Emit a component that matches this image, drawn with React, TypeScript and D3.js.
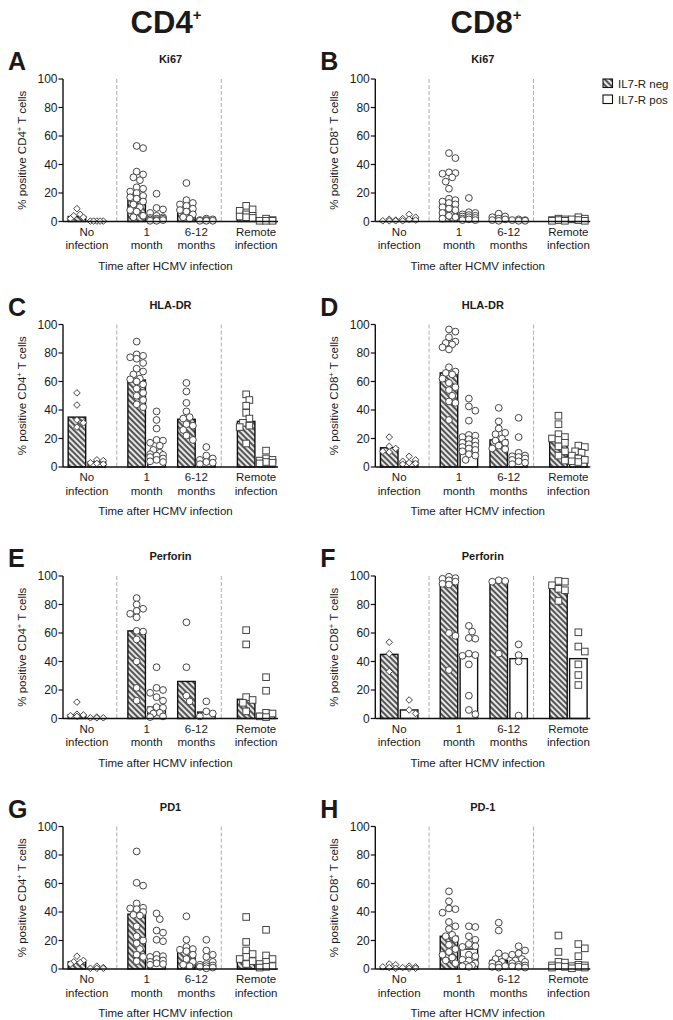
import React from 'react';
import * as d3 from 'd3';

const groupLines = [['No', 'infection'], ['1', 'month'], ['6-12', 'months'], ['Remote', 'infection']];
const yTicks = [0, 20, 40, 60, 80, 100];
const legendLabels = ['IL7-R neg', 'IL7-R pos'];
const xTitle = 'Time after HCMV infection';

// Ki67
const ki67Cd4Neg = [[9, 5, 4, 3, 2], [53, 51.5, 35, 33, 31, 29, 24, 23, 21, 20, 18, 17, 16, 14, 12, 10, 8, 7, 4, 3], [27, 15, 13, 12, 11, 9, 8, 7, 5, 3, 2], [11, 8.5, 7.5, 5, 4, 3.5, 3, 2.5]];
const ki67Cd4Pos = [[0.3, 0.3, 0.3, 0.3, 0.3], [19.5, 9.5, 8.5, 6, 4, 3, 2.5, 2, 2, 1.5, 1, 1, 0.5, 0.5], [2, 1.5, 1, 1, 0.5, 0.5, 0.5], [2, 1, 0.5, 0.5, 0.5]];
const ki67Cd4NegBar = [3.5, 18.5, 8.5, 4];
const ki67Cd4PosBar = [0.3, 2, 0.5, 0.5];

const ki67Cd8Neg = [[1.5, 1, 0.5, 0.5, 0.5], [48, 44.5, 34.5, 34, 33.5, 31, 28, 23, 16, 15, 14, 13, 12, 10, 9, 8, 6, 4, 3, 2], [5.5, 3.5, 3, 2, 1.5, 1, 0.5], [2, 1.5, 1, 1, 0.5, 0.5]];
const ki67Cd8Pos = [[5, 3, 2, 1.5, 1, 0.5], [16.5, 6.5, 6, 5, 4.5, 4, 3.5, 3, 2.5, 2, 1.5, 1, 1], [1.5, 1, 1, 0.5, 0.5], [3, 2, 1.5, 1, 0.5]];
const ki67Cd8NegBar = [0.5, 15, 1.5, 1];
const ki67Cd8PosBar = [2, 4, 0.5, 1];

// HLA-DR
const hlaCd4Neg = [[52, 43.5, 33, 31, 28], [88, 79, 78, 77, 76, 73, 69, 67, 65, 62, 61.5, 60, 58, 55, 52, 50, 47, 44, 42], [59, 53, 45, 39, 35, 34, 30, 29, 26, 22, 19], [51, 47, 43, 38, 34, 31, 29, 28, 16.5]];
const hlaCd4Pos = [[5, 4.5, 3, 2.5, 2], [39, 33, 27, 19, 18.5, 17, 15, 12, 10, 9, 8.5, 8, 7, 6, 5, 4, 3.5], [14, 8, 6, 5, 3.5, 3, 2], [11.5, 6, 5, 4.5, 3.5, 3, 2.5]];
const hlaCd4NegBar = [35, 61, 33.5, 32];
const hlaCd4PosBar = [3.5, 9, 4, 4];

const hlaCd8Neg = [[21, 14.5, 13, 11, 10.5], [96.5, 95, 91, 88, 87, 86, 84, 82.5, 70, 67, 66, 65, 62, 59, 56, 54, 50, 46, 45, 33], [41.5, 32, 27, 24, 23, 20, 18.5, 17, 15, 13, 12.5], [36, 30, 23, 21, 20, 19, 17, 14.5, 11, 8, 4.5]];
const hlaCd8Pos = [[7.5, 5, 4, 3, 2.5, 2], [48, 42.5, 39.5, 32.5, 22.5, 22, 21, 19.5, 18, 17, 16, 15, 14, 13, 12, 11, 9, 8, 5], [34.5, 21, 10, 8, 7.5, 7, 6, 5, 4, 3, 2], [15, 14, 11, 10, 8, 6, 5, 4, 3.5]];
const hlaCd8NegBar = [13.5, 66, 19, 18];
const hlaCd8PosBar = [3.5, 18, 6.5, 6];

// Perforin
const perfCd4Neg = [[11.5, 3, 2.5, 2, 1.5], [84.5, 80, 77, 75.5, 73.5, 71, 61.5, 61, 55.5, 40, 21.5, 12.5], [67.5, 36, 16, 12], [62, 52, 15, 13, 11, 5]];
const perfCd4Pos = [[1, 0.5, 0.5, 0.5], [36, 21.5, 20, 18, 15, 12.5, 8, 7.5, 6, 4, 3.5, 1.5, 1], [12, 5, 3.5, 1.5], [29, 19.5, 4, 3.5, 1.5, 1]];
const perfCd4NegBar = [2.5, 61.5, 26, 13.5];
const perfCd4PosBar = [0.5, 8, 4.5, 3.5];

const perfCd8Neg = [[53.5, 45.5, 33], [99.5, 98.5, 98, 97, 96, 94.5, 94, 60, 58, 34], [97, 96.5, 96, 45.5], [96, 96.5, 93.5, 91, 90, 82.5]];
const perfCd8Pos = [[13, 6, 3.5], [65, 61, 56.5, 56, 45.5, 44.5, 44, 38, 16, 6, 3], [52, 44.5, 40, 2], [60.5, 50.5, 47, 38, 30.5, 23.5]];
const perfCd8NegBar = [45, 94, 96, 91.5];
const perfCd8PosBar = [6, 44, 42, 42];

// PD1
const pd1Cd4Neg = [[9, 6, 5, 4.5, 3.5], [82.5, 60.5, 58.5, 46, 43, 42.5, 42, 40, 38, 37.5, 30, 23, 20, 18, 14, 10, 8.5, 5.5], [37, 20.5, 15.5, 14, 13.5, 12.5, 10, 7, 5, 3, 2], [36.5, 19, 13, 10.5, 8.5, 7, 5.5, 3.5]];
const pd1Cd4Pos = [[2, 1, 0.5, 0.5, 0.5], [39, 35, 27, 25.5, 20.5, 19.5, 10, 9, 8.5, 7, 6, 5, 4, 3.5, 3], [20.5, 13, 10, 8.5, 5, 3.5, 3, 2.5, 2, 1.5, 1, 0.5], [27.5, 9.5, 7, 5, 3.5, 2, 1.5, 1]];
const pd1Cd4NegBar = [5, 38.5, 13, 7];
const pd1Cd4PosBar = [0.5, 8, 2.5, 2.5];

const pd1Cd8Neg = [[3.5, 3, 1.5, 1, 0.5], [54.5, 47.5, 42.5, 42, 39.5, 33, 30, 28, 24, 23, 21, 17, 14, 12, 10, 8, 6, 4], [32.5, 27, 11, 9, 7, 5, 4, 3, 2, 1.5, 1], [23.5, 12, 5, 4.5, 2.5, 2, 1.5, 1]];
const pd1Cd8Pos = [[2, 1.5, 1, 0.5, 0.5], [30, 29.5, 23, 20.5, 17.5, 16, 15.5, 10, 9, 6.5, 6, 4, 3, 2.5, 2, 1.5], [16, 13, 11, 10, 7, 6, 5, 4, 3, 2.5, 2, 1.5, 1], [17.5, 14.5, 9, 3, 2.5, 2, 1.5, 1, 0.5]];
const pd1Cd8NegBar = [1, 23, 6, 2.5];
const pd1Cd8PosBar = [1, 14, 4, 2];

const panels = [
  { letter: 'A', title: 'Ki67', cell: 'CD4', neg: ki67Cd4Neg, pos: ki67Cd4Pos, negBar: ki67Cd4NegBar, posBar: ki67Cd4PosBar },
  { letter: 'B', title: 'Ki67', cell: 'CD8', neg: ki67Cd8Neg, pos: ki67Cd8Pos, negBar: ki67Cd8NegBar, posBar: ki67Cd8PosBar },
  { letter: 'C', title: 'HLA-DR', cell: 'CD4', neg: hlaCd4Neg, pos: hlaCd4Pos, negBar: hlaCd4NegBar, posBar: hlaCd4PosBar },
  { letter: 'D', title: 'HLA-DR', cell: 'CD8', neg: hlaCd8Neg, pos: hlaCd8Pos, negBar: hlaCd8NegBar, posBar: hlaCd8PosBar },
  { letter: 'E', title: 'Perforin', cell: 'CD4', neg: perfCd4Neg, pos: perfCd4Pos, negBar: perfCd4NegBar, posBar: perfCd4PosBar },
  { letter: 'F', title: 'Perforin', cell: 'CD8', neg: perfCd8Neg, pos: perfCd8Pos, negBar: perfCd8NegBar, posBar: perfCd8PosBar },
  { letter: 'G', title: 'PD1', cell: 'CD4', neg: pd1Cd4Neg, pos: pd1Cd4Pos, negBar: pd1Cd4NegBar, posBar: pd1Cd4PosBar },
  { letter: 'H', title: 'PD-1', cell: 'CD8', neg: pd1Cd8Neg, pos: pd1Cd8Pos, negBar: pd1Cd8NegBar, posBar: pd1Cd8PosBar },
];

// layout
const W = 673;
const H = 1020;
const FONT = 'Liberation Sans, Arial, Helvetica, sans-serif';
const colAxisX = [63, 375.3];
const rowTop = [79, 324.5, 576, 826.5];
const plotW = 215;
const plotH = 142.5;
const groupStart = [0, 3, 5.5, 8.5];
const separators = [2, 7.25];
const barW = 0.88;
const markerR = 3.4;

const x = d3.scaleLinear().domain([-0.7, 10.1]).range([0, plotW]);
const y = d3.scaleLinear().domain([0, 100]).range([plotH, 0]);

// prism-like scatter: nudge overlapping points sideways, kept inside the bar
function swarm(values: number[], maxOff: number) {
  const order = values.map((_, i) => i).sort((a, b) => values[b] - values[a]);
  const placed: { x: number; y: number }[] = [];
  const out: { x: number; y: number }[] = new Array(values.length);
  const step = markerR * 0.95;
  const minD = markerR * 1.75;
  for (const i of order) {
    const py = y(values[i]);
    let best = 0;
    let bestCost = Infinity;
    for (let k = 0; k <= 6; k++) {
      const cands = k === 0 ? [0] : [k * step, -k * step];
      for (const c of cands) {
        if (Math.abs(c) > maxOff) continue;
        let cost = 0;
        for (const p of placed) {
          const d = Math.hypot(p.x - c, p.y - py);
          if (d < minD) cost += minD - d;
        }
        if (cost < bestCost - 1e-6) {
          bestCost = cost;
          best = c;
        }
      }
      if (bestCost === 0) break;
    }
    placed.push({ x: best, y: py });
    out[i] = { x: best, y: py };
  }
  return out;
}

function Marker({ g, cx, cy }: { g: number; cx: number; cy: number }) {
  const st = { fill: '#fff', stroke: '#444', strokeWidth: 1 };
  if (g === 0) {
    const r = 3.3;
    return <path d={`M${cx},${cy - r}L${cx + r},${cy}L${cx},${cy + r}L${cx - r},${cy}Z`} {...st} />;
  }
  if (g === 3) {
    const s = 3.3;
    return <rect x={cx - s} y={cy - s} width={2 * s} height={2 * s} {...st} />;
  }
  return <circle cx={cx} cy={cy} r={markerR} {...st} />;
}

function Panel({ p, idx }: { p: typeof panels[number]; idx: number }) {
  const col = idx % 2;
  const row = Math.floor(idx / 2);
  const ox = colAxisX[col];
  const oy = rowTop[row];
  const bw = x(barW) - x(0);
  const halfSpread = bw / 2 - 0.5;
  return (
    <g transform={`translate(${ox},${oy})`} fontFamily={FONT}>
      <text x={-55} y={-9} fontSize={25} fontWeight="bold" fill="#1a1a1a">{p.letter}</text>
      <text x={plotW / 2} y={-16} fontSize={11} fontWeight="bold" textAnchor="middle" fill="#1a1a1a">{p.title}</text>
      {separators.map((s, i) => (
        <line key={i} x1={x(s)} x2={x(s)} y1={0} y2={plotH} stroke="#999" strokeWidth={0.8} strokeDasharray="4,2" />
      ))}
      {groupStart.map((gs, g) => (
        <g key={g}>
          <rect x={x(gs) - bw / 2} y={y(p.negBar[g])} width={bw} height={plotH - y(p.negBar[g])} fill="url(#hatch)" stroke="#111" strokeWidth={1.4} />
          <rect x={x(gs + 1) - bw / 2} y={y(p.posBar[g])} width={bw} height={plotH - y(p.posBar[g])} fill="#fff" stroke="#111" strokeWidth={1.4} />
        </g>
      ))}
      {groupStart.map((gs, g) => {
        const negPts = swarm(p.neg[g], halfSpread);
        const posPts = swarm(p.pos[g], halfSpread);
        return (
          <g key={'pts' + g}>
            {negPts.map((pt, i) => <Marker key={'n' + i} g={g} cx={x(gs) + pt.x} cy={pt.y} />)}
            {posPts.map((pt, i) => <Marker key={'p' + i} g={g} cx={x(gs + 1) + pt.x} cy={pt.y} />)}
          </g>
        );
      })}
      {/* axes */}
      <line x1={0} x2={0} y1={0} y2={plotH} stroke="#111" strokeWidth={1.4} />
      <line x1={0} x2={plotW} y1={plotH} y2={plotH} stroke="#111" strokeWidth={1.6} />
      {yTicks.map((t) => (
        <g key={t} transform={`translate(0,${y(t)})`}>
          <line x1={-4.5} x2={0} stroke="#111" strokeWidth={1.2} />
          <text x={-5.5} dy="0.35em" fontSize={12} textAnchor="end" fill="#1a1a1a">{t}</text>
        </g>
      ))}
      {groupLines.map((lines, g) => (
        <text key={g} x={x(groupStart[g] + 0.5)} y={plotH + 14} fontSize={11.5} textAnchor="middle" fill="#1a1a1a">
          <tspan x={x(groupStart[g] + 0.5)}>{lines[0]}</tspan>
          <tspan x={x(groupStart[g] + 0.5)} dy={13.5}>{lines[1]}</tspan>
        </text>
      ))}
      <text x={plotW / 2 - 5} y={plotH + 48} fontSize={11.5} textAnchor="middle" fill="#1a1a1a">{xTitle}</text>
      <text transform={`translate(-37.5,${plotH / 2}) rotate(-90)`} fontSize={11.5} textAnchor="middle" fill="#1a1a1a">
        % positive {p.cell}
        <tspan dy={-4} fontSize={7.5}>+</tspan>
        <tspan dy={4}> T cells</tspan>
      </text>
    </g>
  );
}

export default function App() {
  return (
    <svg width={W} height={H} style={{ position: 'absolute', left: 0, top: 0, background: '#fff' }}>
      <defs>
        <pattern id="hatch" patternUnits="userSpaceOnUse" width={4} height={4} patternTransform="rotate(-45)">
          <rect width={4} height={4} fill="#e6e6e6" />
          <rect width={2} height={4} fill="#555" />
        </pattern>
      </defs>
      <rect width={W} height={H} fill="#fff" />
      <g fontFamily={FONT} fontWeight="bold" fill="#1a1a1a">
        <text x={166} y={33} fontSize={31} textAnchor="middle">
          CD4<tspan dy={-13} fontSize={15}>+</tspan>
        </text>
        <text x={486} y={33} fontSize={31} textAnchor="middle">
          CD8<tspan dy={-13} fontSize={15}>+</tspan>
        </text>
      </g>
      {panels.map((p, i) => <Panel key={i} p={p} idx={i} />)}
      <g fontFamily={FONT} fontSize={11.5} fill="#1a1a1a">
        {legendLabels.map((l, i) => (
          <g key={l} transform={`translate(603,${79 + i * 16})`}>
            <rect width={9.5} height={8.5} fill={i === 0 ? 'url(#hatch)' : '#fff'} stroke="#111" strokeWidth={1.1} />
            <text x={15} y={8.5}>{l}</text>
          </g>
        ))}
      </g>
    </svg>
  );
}
